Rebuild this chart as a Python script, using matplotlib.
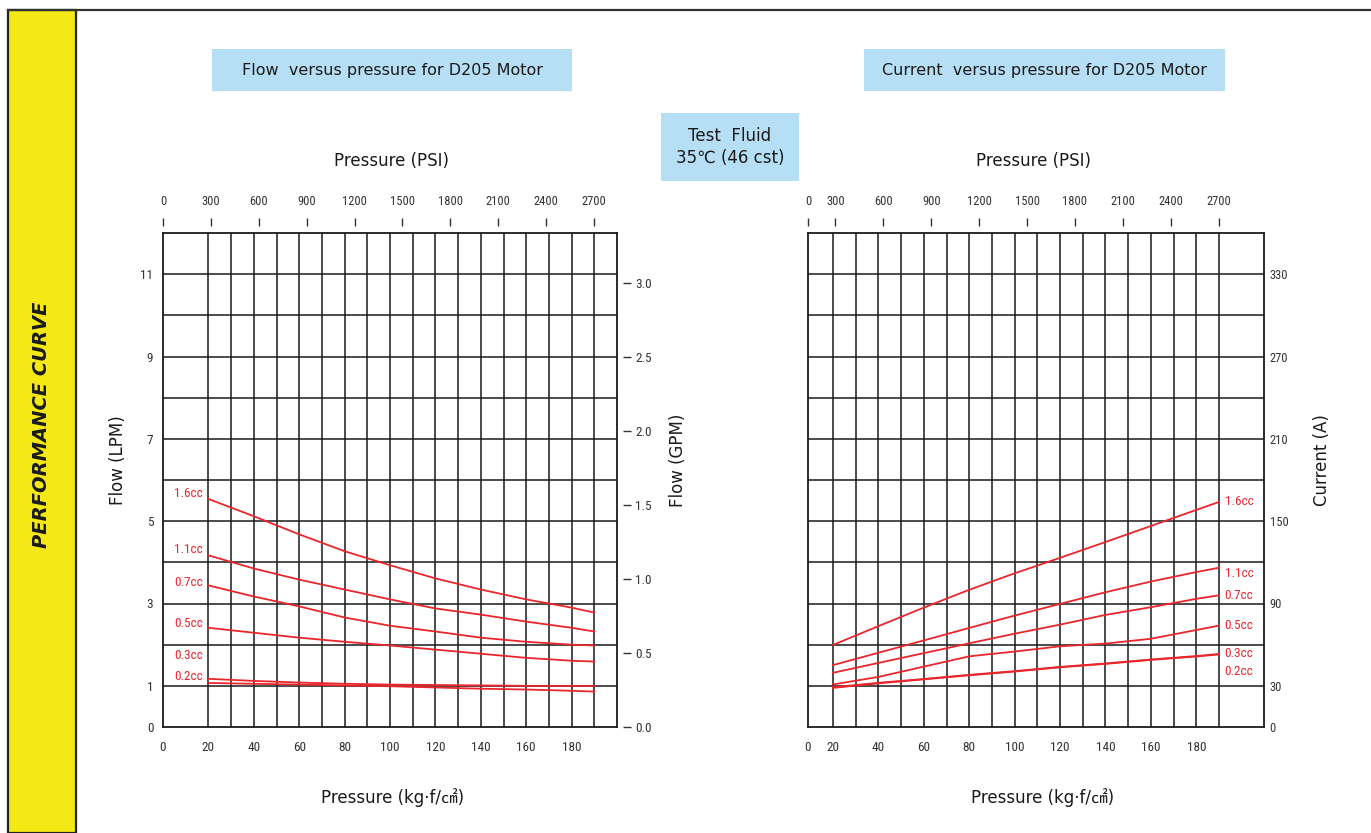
import matplotlib
matplotlib.use("Agg")
import matplotlib.pyplot as plt
from matplotlib import font_manager
from matplotlib.patches import Rectangle
from matplotlib.lines import Line2D

# ---------------- data ----------------
pressure_kgf = [20, 40, 60, 80, 100, 120, 140, 160, 180, 190]
displacements = ["1.6cc", "1.1cc", "0.7cc", "0.5cc", "0.3cc", "0.2cc"]

flow_16 = [5.54, 5.12, 4.68, 4.27, 3.93, 3.61, 3.34, 3.10, 2.90, 2.78]
flow_11 = [4.17, 3.85, 3.58, 3.34, 3.10, 2.88, 2.73, 2.56, 2.41, 2.32]
flow_07 = [3.44, 3.17, 2.93, 2.66, 2.46, 2.32, 2.17, 2.07, 2.00, 1.98]
flow_05 = [2.41, 2.29, 2.17, 2.07, 1.98, 1.88, 1.78, 1.68, 1.61, 1.59]
flow_03 = [1.17, 1.12, 1.08, 1.05, 1.03, 1.02, 1.01, 1.00, 1.00, 1.00]
flow_02 = [1.07, 1.05, 1.03, 1.01, 0.99, 0.96, 0.93, 0.91, 0.88, 0.86]

cur_16 = [59.8, 73.5, 87.0, 100.0, 112.0, 123.3, 134.8, 146.5, 158.2, 164.0]
cur_11 = [45.1, 54.1, 63.1, 72.2, 81.2, 89.7, 98.2, 106.0, 112.9, 116.1]
cur_07 = [39.5, 46.7, 53.8, 61.0, 68.0, 74.6, 81.7, 87.3, 93.4, 96.0]
cur_05 = [31.0, 36.5, 44.0, 51.5, 55.0, 58.8, 60.8, 64.3, 70.7, 73.9]
cur_03 = [29.0, 32.2, 35.0, 38.0, 40.7, 43.8, 46.3, 49.2, 51.7, 53.2]
cur_02 = [28.5, 31.8, 34.7, 37.7, 40.4, 43.5, 46.0, 48.9, 51.4, 52.9]

flow_series = [flow_16, flow_11, flow_07, flow_05, flow_03, flow_02]
cur_series = [cur_16, cur_11, cur_07, cur_05, cur_03, cur_02]

kgf_ticks = [0, 20, 40, 60, 80, 100, 120, 140, 160, 180]
psi_ticks = [0, 300, 600, 900, 1200, 1500, 1800, 2100, 2400, 2700]
lpm_ticks = [0, 1, 3, 5, 7, 9, 11]
gpm_ticks = [0.0, 0.5, 1.0, 1.5, 2.0, 2.5, 3.0]
amp_ticks = [0, 30, 90, 150, 210, 270, 330]
PSI_PER_KGF = 14.223

# ---------------- style ----------------
avail = {f.name for f in font_manager.fontManager.ttflist}
narrow_candidates = ["Liberation Sans Narrow", "Roboto Condensed", "Open Sans Condensed",
                     "Noto Sans Condensed", "DejaVu Sans Condensed"]
NARROW = next((n for n in narrow_candidates if n in avail), "DejaVu Sans")
NARROW_KW = dict(family=NARROW, stretch="condensed")
MAIN = ["DejaVu Sans", "Noto Sans CJK SC"]
RED = "#e8262c"
GRID = "#1a1a1a"
BLUE = "#b6dff5"
TICKC = "#333333"

W, H = 1371, 833
fig = plt.figure(figsize=(W / 100, H / 100), dpi=100)


def fx(px):
    return px / W


def fy(py):
    return 1 - py / H


# side bar + frame
fig.patches.append(Rectangle((fx(8), 0), fx(76) - fx(8), fy(10), transform=fig.transFigure,
                             facecolor="#f4e914", edgecolor="#222222", lw=1.6, zorder=0))
fig.lines.append(Line2D([fx(8), 1.0], [fy(10), fy(10)], transform=fig.transFigure,
                        color="#333333", lw=1.6))
fig.text(fx(42), fy(425), "PERFORMANCE CURVE", rotation=90, ha="center", va="center",
         fontsize=14, fontweight="bold", fontstyle="italic", color="#1a1a1a",
         family="DejaVu Sans")


def blue_box(x0, y0, x1, y1, text, size=11.5):
    fig.patches.append(Rectangle((fx(x0), fy(y1)), fx(x1) - fx(x0), fy(y0) - fy(y1),
                                 transform=fig.transFigure, facecolor=BLUE,
                                 edgecolor="none", zorder=0))
    fig.text((fx(x0) + fx(x1)) / 2, (fy(y0) + fy(y1)) / 2, text, ha="center", va="center",
             fontsize=size, color="#1a1a1a", family=MAIN, linespacing=1.3)


blue_box(212, 49, 572, 91, "Flow  versus pressure for D205 Motor")
blue_box(864, 49, 1225, 91, "Current  versus pressure for D205 Motor")
blue_box(661, 113, 799, 181, "Test  Fluid\n35\u2103 (46 cst)", size=12)


def narrow_ticks(ax, axis, size):
    labels = ax.get_xticklabels() if axis == "x" else ax.get_yticklabels()
    for t in labels:
        t.set_fontfamily(NARROW)
        t.set_fontstretch("condensed")
        t.set_fontsize(size)
        t.set_color(TICKC)


def make_axes(left_px, right_px, xlim, ylim, hlines, vlines):
    ax = fig.add_axes([fx(left_px), fy(727), fx(right_px) - fx(left_px), fy(233) - fy(727)])
    ax.set_xlim(*xlim)
    ax.set_ylim(*ylim)
    for v in vlines:
        ax.axvline(v, color=GRID, lw=1.1, zorder=1)
    for h in hlines:
        ax.axhline(h, color=GRID, lw=1.1, zorder=1)
    for s in ax.spines.values():
        s.set_color(GRID)
        s.set_linewidth(1.3)
    ax.tick_params(length=0)
    return ax


# ---------------- left chart: flow ----------------
axL = make_axes(163, 617, (0, 200), (0, 12),
                hlines=range(1, 12), vlines=[20] + list(range(30, 200, 10)))
axL.set_xticks(kgf_ticks)
axL.set_xticklabels([str(t) for t in kgf_ticks])
axL.set_yticks(lpm_ticks)
axL.set_yticklabels([str(t) for t in lpm_ticks])
axL.tick_params(axis="x", pad=10)
axL.tick_params(axis="y", pad=7)
narrow_ticks(axL, "x", 9.5)
narrow_ticks(axL, "y", 9.5)

label_dy_left = [4, 4, 2, 3, 17, 5]
for name, ys, dy in zip(displacements, flow_series, label_dy_left):
    axL.plot(pressure_kgf, ys, color=RED, lw=1.3, zorder=3)
    axL.annotate(name, (pressure_kgf[0], ys[0]), xytext=(-4, dy), textcoords="offset points",
                 ha="right", va="center", color=RED, fontsize=9.5, **NARROW_KW)

# GPM axis (right side)
axG = axL.twinx()
axG.set_ylim(0, 3.338)
axG.set_yticks(gpm_ticks)
axG.set_yticklabels([f"{t:.1f}" for t in gpm_ticks])
axG.spines["right"].set_position(("outward", 4))
for s in axG.spines.values():
    s.set_visible(False)
axG.tick_params(axis="y", direction="out", length=6, width=1, color="#333333", pad=3)
narrow_ticks(axG, "y", 9.5)

# PSI axis (top)
axP = axL.twiny()
axP.set_xlim(0, 200)
axP.set_xticks([p / PSI_PER_KGF for p in psi_ticks])
axP.set_xticklabels([str(p) for p in psi_ticks])
axP.spines["top"].set_position(("outward", 5))
for s in axP.spines.values():
    s.set_visible(False)
axP.tick_params(axis="x", direction="out", length=6, width=1, color="#333333", pad=7)
narrow_ticks(axP, "x", 9)

# ---------------- right chart: current ----------------
XL_R = 9.0
axR = make_axes(808, 1264, (XL_R, 209.8), (0, 360),
                hlines=range(30, 360, 30), vlines=list(range(20, 200, 10)))
axR.set_xticks([XL_R] + kgf_ticks[1:])
axR.set_xticklabels([str(t) for t in kgf_ticks])
axR.yaxis.tick_right()
axR.set_yticks(amp_ticks)
axR.set_yticklabels([str(t) for t in amp_ticks])
axR.tick_params(axis="x", pad=10)
axR.tick_params(axis="y", pad=4)
narrow_ticks(axR, "x", 9.5)
narrow_ticks(axR, "y", 9)

label_dy_right = [0, -4, 0, 0, 0, -12]
for name, ys, dy in zip(displacements, cur_series, label_dy_right):
    axR.plot(pressure_kgf, ys, color=RED, lw=1.3, zorder=3)
    axR.annotate(name, (pressure_kgf[-1], ys[-1]), xytext=(4, dy), textcoords="offset points",
                 ha="left", va="center", color=RED, fontsize=9.5, **NARROW_KW)

axRP = axR.twiny()
axRP.set_xlim(XL_R, 209.8)
axRP.set_xticks([XL_R] + [p / PSI_PER_KGF for p in psi_ticks[1:]])
axRP.set_xticklabels([str(p) for p in psi_ticks])
axRP.spines["top"].set_position(("outward", 5))
for s in axRP.spines.values():
    s.set_visible(False)
axRP.tick_params(axis="x", direction="out", length=6, width=1, color="#333333", pad=7)
narrow_ticks(axRP, "x", 9)

# ---------------- axis titles ----------------
lab = dict(fontsize=12, color="#1a1a1a", family=MAIN, ha="center", va="center")
fig.text(fx(392), fy(161), "Pressure (PSI)", **lab)
fig.text(fx(1033), fy(161), "Pressure (PSI)", **lab)
fig.text(fx(393), fy(798), "Pressure (kg\u00b7f/\u33a0)", **lab)
fig.text(fx(1043), fy(798), "Pressure (kg\u00b7f/\u33a0)", **lab)
fig.text(fx(118), fy(460), "Flow (LPM)", rotation=90, **lab)
fig.text(fx(678), fy(460), "Flow (GPM)", rotation=90, **lab)
fig.text(fx(1322), fy(460), "Current (A)", rotation=90, **lab)

fig.savefig("out.png", dpi=100)
